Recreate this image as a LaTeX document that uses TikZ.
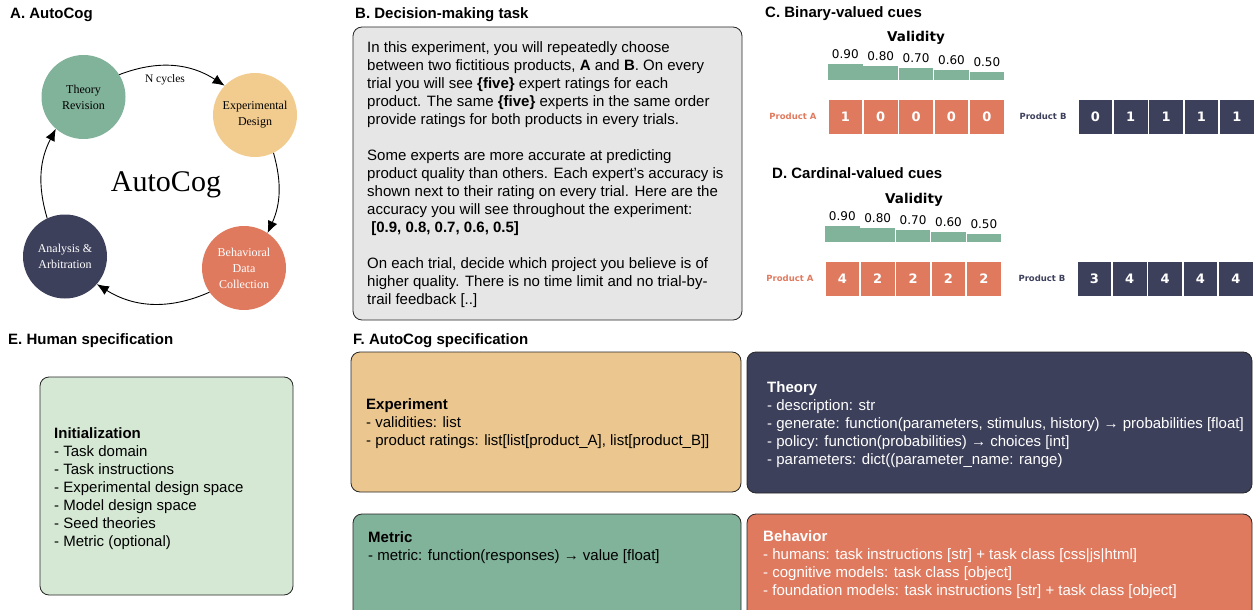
\documentclass[tikz,border=0pt]{standalone}
\usepackage{fontspec}
\setmainfont{Liberation Sans}
\newfontfamily\timesfont{Liberation Serif}
\newfontfamily\plotfont{DejaVu Sans}
\usetikzlibrary{arrows.meta,positioning}

\definecolor{cgreen}{HTML}{81B29A}
\definecolor{cyellow}{HTML}{F2CC8F}
\definecolor{corange}{HTML}{E07A5F}
\definecolor{cnavy}{HTML}{3D405B}
\definecolor{cpale}{HTML}{D5E8D4}
\definecolor{csand}{HTML}{EBC78F}
\definecolor{cgray}{HTML}{E6E6E6}

\begin{document}
\begin{tikzpicture}[x=1pt, y=-1pt,
    paneltitle/.style={anchor=base west, inner sep=0, font=\fontsize{15}{18}\selectfont\bfseries},
    stage/.style={circle, minimum size=84pt, inner sep=0, align=center, font=\timesfont\fontsize{12}{16}\selectfont},
    loopline/.style={line width=0.9pt, -{Latex[length=12pt,width=10pt]}},
    card/.style={draw=black!85, line width=0.8pt, rounded corners=9pt},
    cardtext/.style={anchor=north west, inner sep=0, align=left, font=\fontsize{15}{18}\selectfont},
    cue/.style={minimum width=34.6pt, minimum height=35pt, inner sep=0, draw=white, line width=0.8pt, text=white, font=\plotfont\bfseries\fontsize{13}{13}\selectfont},
    cueA/.style={cue, fill=corange},
    cueB/.style={cue, fill=cnavy},
    prodlabel/.style={inner sep=0, font=\plotfont\bfseries\fontsize{8.5}{10}\selectfont},
    valtitle/.style={inner sep=0, font=\plotfont\bfseries\fontsize{13.5}{15}\selectfont},
    valnum/.style={inner sep=0, font=\plotfont\fontsize{12}{14}\selectfont}]

    \useasboundingbox (0,0) rectangle (1254,610);
    \clip (0,0) rectangle (1254,610);

    % A. AutoCog
    \node[paneltitle] (titleA) at (10,18.5) {A. AutoCog};
    \node[stage, fill=cgreen] (theory) at (83.5,97) {Theory\\Revision};
    \node[stage, fill=cyellow] (design) at (255,115) {Experimental\\Design};
    \node[stage, fill=corange, text=white] (collect) at (244,268) {Behavioral\\Data\\Collection};
    \node[stage, fill=cnavy, text=white] (analysis) at (65,256.5) {Analysis \&\\Arbitration};
    \node[font=\timesfont\fontsize{30}{30}\selectfont] (core) at (166,185) {AutoCog};
    \node[font=\timesfont\fontsize{11.5}{13}\selectfont] (ncycles) at (165,80) {N cycles};

    % the loop runs on one big circle round the core
    \draw[loopline] (theory.32) to[bend left=27] (design.136);
    \draw[loopline] (design.-64) to[bend left=20] (collect.56);
    \draw[loopline] (collect.-145) to[bend left=28] (analysis.-41);
    \draw[loopline] (analysis.115) to[bend left=22] (theory.-131);

    % B. Decision-making task
    \node[paneltitle] (titleB) at (355,18.5) {B. Decision-making task};
    \draw[card, fill=cgray] (353,27) rectangle (742,320);
    \node[cardtext] (task) at (367,41) {In this experiment, you will repeatedly choose\\
        between two fictitious products, \textbf{A} and \textbf{B}. On every\\
        trial you will see \textbf{\{five\}} expert ratings for each\\
        product. The same \textbf{\{five\}} experts in the same order\\
        provide ratings for both products in every trials.\\[18pt]
        Some experts are more accurate at predicting\\
        product quality than others. Each expert's accuracy is\\
        shown next to their rating on every trial. Here are the\\
        accuracy you will see throughout the experiment:\\
        \ \textbf{[0.9, 0.8, 0.7, 0.6, 0.5]}\\[18pt]
        On each trial, decide which project you believe is of\\
        higher quality. There is no time limit and no trial-by-\\
        trail feedback [..]};

    % C. Binary-valued cues
    \node[paneltitle] (titleC) at (765,17.5) {C. Binary-valued cues};
    \node[valtitle] (valC) at (916,38) {Validity};
    \fill[cgreen] (828,80) rectangle ++(34.6,-16);
    \fill[cgreen] (863.4,80) rectangle ++(34.6,-14);
    \fill[cgreen] (898.8,80) rectangle ++(34.6,-12);
    \fill[cgreen] (934.2,80) rectangle ++(34.6,-10);
    \fill[cgreen] (969.6,80) rectangle ++(34.6,-8);
    \node[valnum] (vc1) at (845.3,54) {0.90};
    \node[valnum] (vc2) at (880.7,56) {0.80};
    \node[valnum] (vc3) at (916.1,58) {0.70};
    \node[valnum] (vc4) at (951.5,60) {0.60};
    \node[valnum] (vc5) at (986.9,62) {0.50};

    \node[prodlabel, text=corange] (prodCA) at (793,116.5) {Product A};
    \node[cueA] (ca1) at (845.3,116.5) {1};
    \node[cueA, right=0pt of ca1] (ca2) {0};
    \node[cueA, right=0pt of ca2] (ca3) {0};
    \node[cueA, right=0pt of ca3] (ca4) {0};
    \node[cueA, right=0pt of ca4] (ca5) {0};
    \node[prodlabel, text=cnavy] (prodCB) at (1043,116.5) {Product B};
    \node[cueB] (cb1) at (1095.3,116.5) {0};
    \node[cueB, right=0pt of cb1] (cb2) {1};
    \node[cueB, right=0pt of cb2] (cb3) {1};
    \node[cueB, right=0pt of cb3] (cb4) {1};
    \node[cueB, right=0pt of cb4] (cb5) {1};

    % D. Cardinal-valued cues
    \node[paneltitle] (titleD) at (772,178.5) {D. Cardinal-valued cues};
    \node[valtitle] (valD) at (914,200) {Validity};
    \fill[cgreen] (825,242) rectangle ++(34.6,-16);
    \fill[cgreen] (860.4,242) rectangle ++(34.6,-14);
    \fill[cgreen] (895.8,242) rectangle ++(34.6,-12);
    \fill[cgreen] (931.2,242) rectangle ++(34.6,-10);
    \fill[cgreen] (966.6,242) rectangle ++(34.6,-8);
    \node[valnum] (vd1) at (842.3,216) {0.90};
    \node[valnum] (vd2) at (877.7,218) {0.80};
    \node[valnum] (vd3) at (913.1,220) {0.70};
    \node[valnum] (vd4) at (948.5,222) {0.60};
    \node[valnum] (vd5) at (983.9,224) {0.50};

    \node[prodlabel, text=corange] (prodDA) at (790,278.5) {Product A};
    \node[cueA] (da1) at (842.3,278.5) {4};
    \node[cueA, right=0pt of da1] (da2) {2};
    \node[cueA, right=0pt of da2] (da3) {2};
    \node[cueA, right=0pt of da3] (da4) {2};
    \node[cueA, right=0pt of da4] (da5) {2};
    \node[prodlabel, text=cnavy] (prodDB) at (1042,278.5) {Product B};
    \node[cueB] (db1) at (1094.3,278.5) {3};
    \node[cueB, right=0pt of db1] (db2) {4};
    \node[cueB, right=0pt of db2] (db3) {4};
    \node[cueB, right=0pt of db3] (db4) {4};
    \node[cueB, right=0pt of db4] (db5) {4};

    % E. Human specification
    \node[paneltitle] (titleE) at (8,344.5) {E. Human specification};
    \draw[card, fill=cpale] (40,377) rectangle (293,595);
    \node[cardtext] (init) at (54,427) {\textbf{Initialization}\\
        - Task domain\\
        - Task instructions\\
        - Experimental design space\\
        - Model design space\\
        - Seed theories\\
        - Metric (optional)};

    % F. AutoCog specification
    \node[paneltitle] (titleF) at (353,344.5) {F. AutoCog specification};
    \draw[card, fill=csand] (351,352) rectangle (741,492);
    \node[cardtext] (experiment) at (366,398) {\textbf{Experiment}\\
        - validities: list\\
        - product ratings: list[list[product\_A], list[product\_B]]};

    \draw[card, fill=cnavy] (747,352) rectangle (1252,493);
    \node[cardtext, text=white] (theoryspec) at (767,381) {\textbf{Theory}\\
        - description: str\\
        - generate: function(parameters, stimulus, history) → probabilities [float]\\
        - policy: function(probabilities) → choices [int]\\
        - parameters: dict((parameter\_name: range)};

    \draw[card, fill=cgreen] (353,514) rectangle (741,620);
    \node[cardtext] (metric) at (368,531) {\textbf{Metric}\\
        - metric: function(responses) → value [float]};

    \draw[card, fill=corange] (747,514) rectangle (1252,620);
    \node[cardtext, text=white] (behavior) at (763,530) {\textbf{Behavior}\\
        - humans: task instructions [str] + task class [css|js|html]\\
        - cognitive models: task class [object]\\
        - foundation models: task instructions [str] + task class [object]};
\end{tikzpicture}
\end{document}
